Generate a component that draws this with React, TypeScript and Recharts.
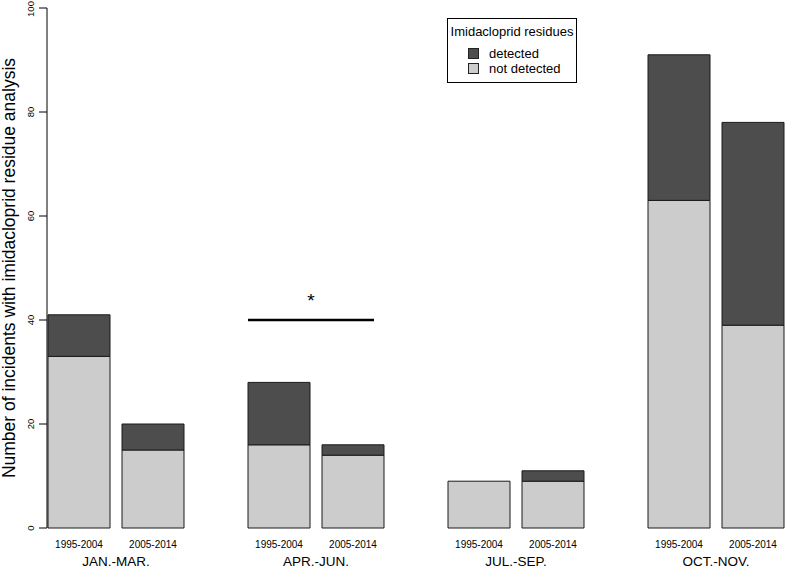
import { BarChart, Bar, XAxis, YAxis, Legend, ReferenceDot, Label } from 'recharts';

const QUARTERS = ['JAN.-MAR.', 'APR.-JUN.', 'JUL.-SEP.', 'OCT.-NOV.'];
const PERIODS = ['1995-2004', '2005-2014'];
const NOT_DETECTED_1995 = [33, 16, 9, 63];
const DETECTED_1995 = [8, 12, 0, 28];
const NOT_DETECTED_2005 = [15, 14, 9, 39];
const DETECTED_2005 = [5, 2, 2, 39];
const Y_TICKS = [0, 20, 40, 60, 80, 100];
const LEGEND_ORDER = ['detected', 'not detected'];

// significance marker over the APR.-JUN. pair
const SIG_GROUP = 'APR.-JUN.';
const SIG_Y = 40;
const SIG_LABEL = '*';

const DARK = '#4d4d4d';
const LIGHT = '#cccccc';
const FONT = '"Liberation Sans", Arial, sans-serif';

const data = QUARTERS.map((q, i) => ({
  quarter: q,
  nd1: NOT_DETECTED_1995[i],
  d1: DETECTED_1995[i],
  nd2: NOT_DETECTED_2005[i],
  d2: DETECTED_2005[i],
}));

const YTick = ({ x, y, payload }: any) => (
  <text
    x={x}
    y={y}
    transform={`rotate(-90 ${x} ${y})`}
    textAnchor="middle"
    fontSize={9.5}
    fill="#000"
    fontFamily={FONT}
  >
    {payload.value}
  </text>
);

const XTick = ({ x, y, payload }: any) => (
  <g fontFamily={FONT} fill="#000">
    <text x={x - 37} y={y + 20} textAnchor="middle" fontSize={10}>{PERIODS[0]}</text>
    <text x={x + 37} y={y + 20} textAnchor="middle" fontSize={10}>{PERIODS[1]}</text>
    <text x={x} y={y + 38} textAnchor="middle" fontSize={13.5}>{payload.value}</text>
  </g>
);

const SigMarker = ({ cx, cy }: any) => (
  <g>
    <line x1={cx - 68} y1={cy} x2={cx + 58} y2={cy} stroke="#000" strokeWidth={2.5} />
    <text x={cx - 5} y={cy - 13} textAnchor="middle" fontSize={19} fontFamily={FONT} fill="#000">
      {SIG_LABEL}
    </text>
  </g>
);

const LegendBox = ({ payload }: any) => {
  const items = LEGEND_ORDER.map((name) => (payload || []).find((p: any) => p.value === name)).filter(Boolean);
  return (
    <div
      style={{
        border: '1px solid #000',
        background: '#fff',
        width: 128,
        padding: '5px 0 6px 0',
        fontFamily: FONT,
        fontSize: 13,
        lineHeight: '15px',
        color: '#000',
      }}
    >
      <div style={{ textAlign: 'center', marginBottom: 7 }}>Imidacloprid residues</div>
      {items.map((it: any) => (
        <div key={it.value} style={{ display: 'flex', alignItems: 'center', paddingLeft: 20 }}>
          <span
            style={{
              display: 'inline-block',
              width: 9,
              height: 9,
              background: it.color,
              border: '1px solid #222',
              marginRight: 10,
            }}
          />
          {it.value}
        </div>
      ))}
    </div>
  );
};

export default function App() {
  return (
    <div style={{ position: 'absolute', left: 0, top: 0, width: 787, height: 569, background: '#fff' }}>
      <BarChart
        width={787}
        height={569}
        data={data}
        margin={{ top: 8, right: 0, bottom: 0, left: 0 }}
        barSize={62}
        barGap={12}
      >
        <XAxis
          dataKey="quarter"
          axisLine={false}
          tickLine={false}
          tickSize={0}
          tickMargin={0}
          height={41}
          interval={0}
          padding={{ left: -31, right: -29 }}
          tick={<XTick />}
        />
        <YAxis
          width={47}
          domain={[0, 100]}
          ticks={Y_TICKS}
          tickSize={8}
          tickMargin={5}
          axisLine={{ stroke: '#000' }}
          tickLine={{ stroke: '#000' }}
          tick={<YTick />}
        >
          <Label
            content={({ viewBox }: any) => {
              const cx = viewBox.x + 9;
              const cy = viewBox.y + viewBox.height / 2;
              return (
                <text
                  x={cx}
                  y={cy}
                  transform={`rotate(-90 ${cx} ${cy})`}
                  textAnchor="middle"
                  dominantBaseline="central"
                  fontSize={17.5}
                  fontFamily={FONT}
                  fill="#000"
                >
                  Number of incidents with imidacloprid residue analysis
                </text>
              );
            }}
          />
        </YAxis>
        <Legend
          layout="vertical"
          align="center"
          verticalAlign="middle"
          wrapperStyle={{ left: 447, top: 18, width: 130 }}
          content={<LegendBox />}
        />
        <Bar dataKey="nd1" stackId="a" name="not detected" fill={LIGHT} stroke="#1a1a1a" isAnimationActive={false} />
        <Bar dataKey="d1" stackId="a" name="detected" fill={DARK} stroke="#1a1a1a" isAnimationActive={false} />
        <Bar dataKey="nd2" stackId="b" name="not detected 2005" fill={LIGHT} stroke="#1a1a1a" legendType="none" isAnimationActive={false} />
        <Bar dataKey="d2" stackId="b" name="detected 2005" fill={DARK} stroke="#1a1a1a" legendType="none" isAnimationActive={false} />
        <ReferenceDot x={SIG_GROUP} y={SIG_Y} shape={<SigMarker />} ifOverflow="visible" />
      </BarChart>
    </div>
  );
}
